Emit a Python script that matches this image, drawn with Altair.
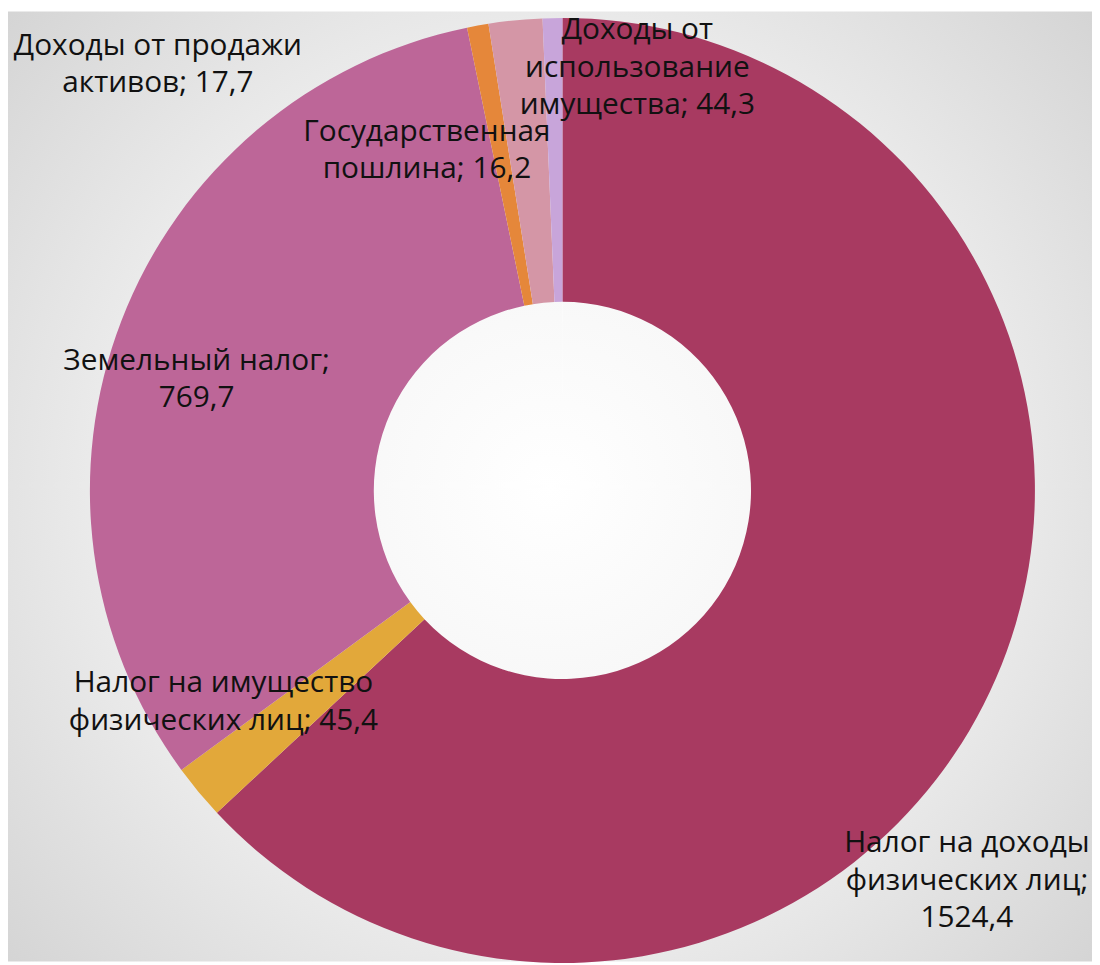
import altair as alt
import pandas as pd

categories = [
    "Налог на доходы физических лиц",
    "Налог на имущество физических лиц",
    "Земельный налог",
    "Доходы от продажи активов",
    "Доходы от использование имущества",
    "Государственная пошлина",
]
values = [1524.4, 45.4, 769.7, 17.7, 44.3, 16.2]
colors = ["#a83a61", "#e2a83a", "#bd6698", "#e5873a", "#d496a6", "#c8a5da"]

label_texts = [
    "Налог на доходы\nфизических лиц;\n1524,4",
    "Налог на имущество\nфизических лиц; 45,4",
    "Земельный налог;\n769,7",
    "Доходы от продажи\nактивов; 17,7",
    "Доходы от\nиспользование\nимущества; 44,3",
    "Государственная\nпошлина; 16,2",
]
# label anchor positions (pixels, chart coordinates, centre of first line)
label_x = [966, 217, 190, 151, 634, 422]
label_y = [838, 677, 352, 35, 19, 121]

W, H = 1092, 957
CX, CY = 558.5, 482.5
R_OUT, R_IN = 476, 190

df = pd.DataFrame({
    "cat": categories,
    "val": values,
    "idx": list(range(len(values))),
})
lab = pd.DataFrame({"text": label_texts, "lx": label_x, "ly": label_y})

bg = alt.Chart(pd.DataFrame({"a": [0]})).mark_rect(
    fill=alt.Gradient(
        gradient="radial",
        stops=[
            alt.GradientStop(offset=0, color="#ffffff"),
            alt.GradientStop(offset=0.45, color="#f2f2f2"),
            alt.GradientStop(offset=1, color="#cdcdcd"),
        ],
        x1=0.5, y1=0.5, r1=0, x2=0.5, y2=0.5, r2=0.75,
    )
).encode(
    x=alt.value(0), x2=alt.value(W), y=alt.value(0), y2=alt.value(H)
)

arcs = alt.Chart(df).mark_arc(
    outerRadius=R_OUT, innerRadius=R_IN
).encode(
    theta=alt.Theta("val:Q", stack=True),
    order=alt.Order("idx:Q"),
    color=alt.Color("cat:N", scale=alt.Scale(domain=categories, range=colors), legend=None),
    x=alt.value(CX),
    y=alt.value(CY),
)

hole = alt.Chart(pd.DataFrame({"v": [1]})).mark_arc(
    outerRadius=R_IN, innerRadius=0, fill="#fdfdfd"
).encode(
    theta=alt.Theta("v:Q"),
    x=alt.value(CX),
    y=alt.value(CY),
)

labels = alt.Chart(lab).mark_text(
    font="Open Sans", fontSize=30, color="#111111", lineBreak="\n",
    lineHeight=37.5, align="center", baseline="middle"
).encode(
    x=alt.X("lx:Q", scale=None),
    y=alt.Y("ly:Q", scale=None),
    text="text:N",
)

chart = alt.layer(bg, arcs, hole, labels).properties(
    width=W, height=H, padding=0,
    autosize=alt.AutoSizeParams(type="none"),
).configure_view(stroke=None)

chart.save("out.html", embed_options={"renderer": "svg", "actions": False})
